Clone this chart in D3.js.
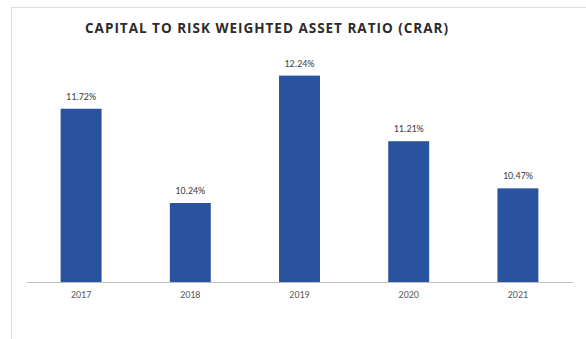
<!DOCTYPE html>
<html>
<head>
<meta charset="utf-8">
<script src="https://cdn.jsdelivr.net/npm/d3@7"></script>
<style>
  html, body { margin: 0; padding: 0; background: #ffffff; }
  svg { display: block; }
</style>
</head>
<body>
<svg id="chart" width="586" height="339"></svg>
<script>
// CRAR by year
const years = ["2017", "2018", "2019", "2020", "2021"];
const crar = [11.72, 10.24, 12.24, 11.21, 10.47];
const yDomain = [9, 12.5];
const title = "CAPITAL TO RISK WEIGHTED ASSET RATIO (CRAR)";

const svg = d3.select("#chart");
const W = 586, H = 339;

// chart frame
svg.append("rect")
  .attr("x", 11.5).attr("y", 7.5)
  .attr("width", W + 10).attr("height", H + 10)
  .attr("fill", "#ffffff")
  .attr("stroke", "#dcdcdc")
  .attr("stroke-width", 1);

const x = d3.scaleBand()
  .domain(years)
  .range([26.5, 572.5])
  .paddingInner(0.625)
  .paddingOuter(0.3125);

const y = d3.scaleLinear()
  .domain(yDomain)
  .range([282, 282 - 63.7 * (yDomain[1] - yDomain[0])]);

const data = years.map((yr, i) => ({ year: yr, value: crar[i] }));

// bars
svg.append("g")
  .selectAll("rect")
  .data(data)
  .join("rect")
  .attr("x", d => x(d.year))
  .attr("y", d => y(d.value))
  .attr("width", x.bandwidth())
  .attr("height", d => y(yDomain[0]) - y(d.value))
  .attr("fill", "#2a539f");

// category axis
const xAxis = svg.append("g")
  .attr("transform", `translate(0,${y(yDomain[0])})`)
  .call(d3.axisBottom(x).tickSize(0).tickPadding(9));
xAxis.select(".domain").attr("stroke", "#bfbfbf").attr("stroke-width", 1.2);
xAxis.selectAll("text")
  .attr("font-family", "Calibri, Carlito, 'Open Sans', sans-serif")
  .attr("font-size", 10)
  .attr("fill", "#595959");

// value labels
svg.append("g")
  .selectAll("text")
  .data(data)
  .join("text")
  .attr("x", d => x(d.year) + x.bandwidth() / 2)
  .attr("y", d => y(d.value) - 9)
  .attr("text-anchor", "middle")
  .attr("font-family", "Calibri, Carlito, 'Open Sans', sans-serif")
  .attr("font-size", 10)
  .attr("fill", "#404040")
  .text(d => d.value.toFixed(2) + "%");

// title
svg.append("text")
  .attr("x", 85)
  .attr("y", 33)
  .attr("textLength", 363)
  .attr("lengthAdjust", "spacing")
  .attr("font-family", "'Open Sans', sans-serif")
  .attr("font-weight", 700)
  .attr("font-size", 13.5)
  .attr("fill", "#2b2b2b")
  .text(title);
</script>
</body>
</html>
